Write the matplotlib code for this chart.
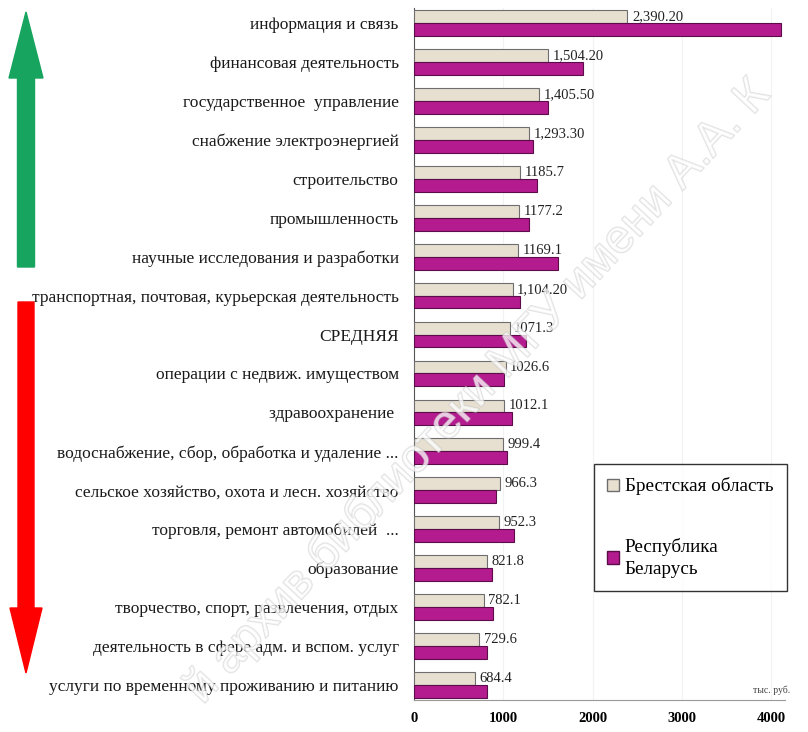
import numpy as np
import matplotlib.pyplot as plt
import matplotlib.patheffects as pe
from matplotlib.patches import FancyArrow, Patch

plt.rcParams['font.family'] = ['Liberation Serif', 'DejaVu Serif']

# данные
categories = [
    "информация и связь",
    "финансовая деятельность",
    "государственное  управление",
    "снабжение электроэнергией",
    "строительство",
    "промышленность",
    "научные исследования и разработки",
    "транспортная, почтовая, курьерская деятельность",
    "СРЕДНЯЯ",
    "операции с недвиж. имуществом",
    "здравоохранение ",
    "водоснабжение, сбор, обработка и удаление ...",
    "сельское хозяйство, охота и лесн. хозяйство",
    "торговля, ремонт автомобилей  ...",
    "образование",
    "творчество, спорт, развлечения, отдых",
    "деятельность в сфере адм. и вспом. услуг",
    "услуги по временному проживанию и питанию",
]
brest = [2390.2, 1504.2, 1405.5, 1293.3, 1185.7, 1177.2, 1169.1, 1104.2, 1071.3,
         1026.6, 1012.1, 999.4, 966.3, 952.3, 821.8, 782.1, 729.6, 684.4]
brest_labels = ["2,390.20", "1,504.20", "1,405.50", "1,293.30", "1185.7", "1177.2",
                "1169.1", "1,104.20", "1071.3", "1026.6", "1012.1", "999.4",
                "966.3", "952.3", "821.8", "782.1", "729.6", "684.4"]
belarus = [4110, 1896, 1504, 1329, 1381, 1288, 1609, 1187, 1251,
           1008, 1094, 1045, 915, 1123, 870, 888, 814, 814]
xticks = [0, 1000, 2000, 3000, 4000]

W, H = 808, 732
fig = plt.figure(figsize=(W / 100, H / 100), dpi=100)
ax = fig.add_axes([414 / W, 1 - 700 / H, (785 - 414) / W, (700 - 8) / H])

y = np.arange(len(categories))
bh = 0.33
ax.barh(y - bh / 2, brest, height=bh, color='#e7e0d1', edgecolor='#6e6e6e', linewidth=0.8,
        zorder=3)
ax.barh(y + bh / 2, belarus, height=bh, color='#b41b8f', edgecolor='#5c0c49', linewidth=0.8,
        zorder=3)

for yi, v, s in zip(y, brest, brest_labels):
    ax.text(v + 50, yi - bh / 2, s, va='center', ha='left', fontsize=10.5, color='#222222')

ax.set_ylim(len(categories) - 1 + 0.39, -0.39)
ax.set_xlim(0, 4155)
ax.set_yticks(y)
ax.set_yticklabels(categories, fontsize=12.5, color='#1a1a1a')
ax.tick_params(axis='y', length=0, pad=11)
ax.set_xticks(xticks)
ax.set_xticklabels([str(t) for t in xticks], fontsize=10.5, fontweight='bold')
ax.tick_params(axis='x', length=0, pad=9)
for t in xticks[1:]:
    ax.axvline(t, color='#f2f2f2', linewidth=0.8, zorder=0)
for s in ['top', 'right']:
    ax.spines[s].set_visible(False)
ax.spines['left'].set_color('#555555')
ax.spines['bottom'].set_color('#999999')

fig.text(790 / W, 1 - 690 / H, 'тыс. руб.', fontsize=7, ha='right', va='center', color='#444444')

handles = [Patch(facecolor='#e7e0d1', edgecolor='#6e6e6e'),
           Patch(facecolor='#b41b8f', edgecolor='#5c0c49')]
leg = fig.legend(handles, ['Брестская область', 'Республика\nБеларусь'],
                 loc='upper left', bbox_to_anchor=(594 / W, 1 - 464 / H),
                 borderaxespad=0, fontsize=13.8, frameon=True, fancybox=False,
                 edgecolor='black', handlelength=0.6, handleheight=0.6,
                 handletextpad=0.3, labelspacing=2.2, borderpad=0.7)
leg.get_frame().set_linewidth(1.0)
for t in leg.get_texts():
    t.set_linespacing(1.4)

# стрелки
fig.add_artist(FancyArrow(26 / W, 1 - 267 / H, 0, (267 - 12) / H, width=17 / W,
                          head_width=34 / W, head_length=66 / H,
                          length_includes_head=True, color='#17a45f',
                          transform=fig.transFigure))
fig.add_artist(FancyArrow(26 / W, 1 - 302 / H, 0, -(673 - 302) / H, width=16 / W,
                          head_width=32 / W, head_length=65 / H,
                          length_includes_head=True, color='#ff0000',
                          transform=fig.transFigure))

# водяной знак
wm = fig.text(478 / W, 1 - 392 / H, 'й архив библиотеки МГУ имени А.А. К',
              family=['Liberation Sans', 'DejaVu Sans'], fontsize=34, rotation=47,
              ha='center', va='center', color='white', alpha=0.5, zorder=10)
wm.set_path_effects([pe.Stroke(linewidth=1.2, foreground='#c4c4c4'), pe.Normal()])

fig.savefig('out.png', dpi=100)
